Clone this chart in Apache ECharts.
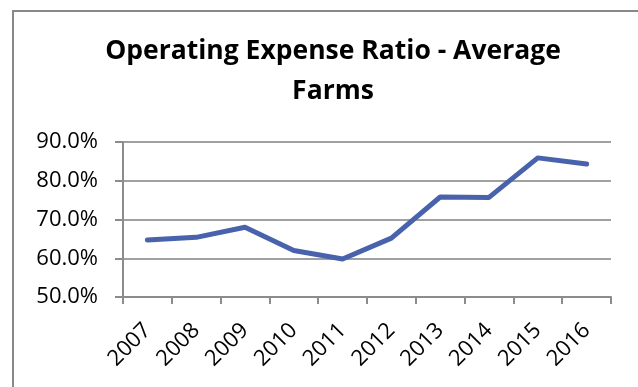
<!DOCTYPE html>
<html>
<head>
<meta charset="utf-8">
<script src="https://cdn.jsdelivr.net/npm/echarts@6/dist/echarts.min.js"></script>
<style>
  html, body { margin: 0; padding: 0; background: #fff; }
  #chart { width: 638px; height: 387px; }
</style>
</head>
<body>
<div id="chart"></div>
<script>
// Operating expense ratio (%) for average farms, 2007-2016
const years = ['2007', '2008', '2009', '2010', '2011', '2012', '2013', '2014', '2015', '2016'];
const expenseRatio = [64.7, 65.4, 68.0, 62.0, 59.8, 65.2, 75.8, 75.7, 85.9, 84.3];
const yTicks = { min: 50, max: 90, step: 10 };

const chart = echarts.init(document.getElementById('chart'), null, { renderer: 'canvas' });

chart.setOption({
  backgroundColor: '#ffffff',
  animation: false,
  title: {
    text: 'Operating Expense Ratio - Average\nFarms',
    left: 328,
    top: 26,
    textAlign: 'center',
    textStyle: {
      fontFamily: 'Open Sans',
      fontWeight: 'bold',
      fontSize: 26.5,
      lineHeight: 40,
      color: '#000000'
    }
  },
  graphic: [{
    type: 'rect',
    shape: { x: 13, y: 11, width: 700, height: 500 },
    style: { fill: 'none', stroke: '#888888', lineWidth: 2 },
    silent: true
  }],
  grid: { left: 123, right: 27, top: 142, bottom: 90, containLabel: false },
  xAxis: {
    type: 'category',
    data: years,
    boundaryGap: true,
    axisLine: { show: true, lineStyle: { color: '#8c8c8c', width: 2 } },
    axisTick: { show: true, alignWithLabel: false, length: 7, lineStyle: { color: '#8c8c8c', width: 2 } },
    axisLabel: {
      rotate: 45,
      margin: 30,
      interval: 0,
      fontFamily: 'Open Sans',
      fontSize: 22,
      color: '#000000'
    },
    splitLine: { show: false }
  },
  yAxis: {
    type: 'value',
    min: yTicks.min,
    max: yTicks.max,
    interval: yTicks.step,
    axisLine: { show: true, lineStyle: { color: '#8c8c8c', width: 2 } },
    axisTick: { show: true, length: 8, lineStyle: { color: '#8c8c8c', width: 2 } },
    axisLabel: {
      margin: 25,
      fontFamily: 'Open Sans',
      fontSize: 22,
      color: '#000000',
      formatter: v => v.toFixed(1) + '%'
    },
    splitLine: { show: true, lineStyle: { color: '#a0a0a0', width: 2 } }
  },
  series: [{
    type: 'line',
    data: expenseRatio,
    symbol: 'none',
    lineStyle: { color: '#4863ab', width: 5, join: 'round', cap: 'round' },
    itemStyle: { color: '#4863ab' }
  }]
});
</script>
</body>
</html>
